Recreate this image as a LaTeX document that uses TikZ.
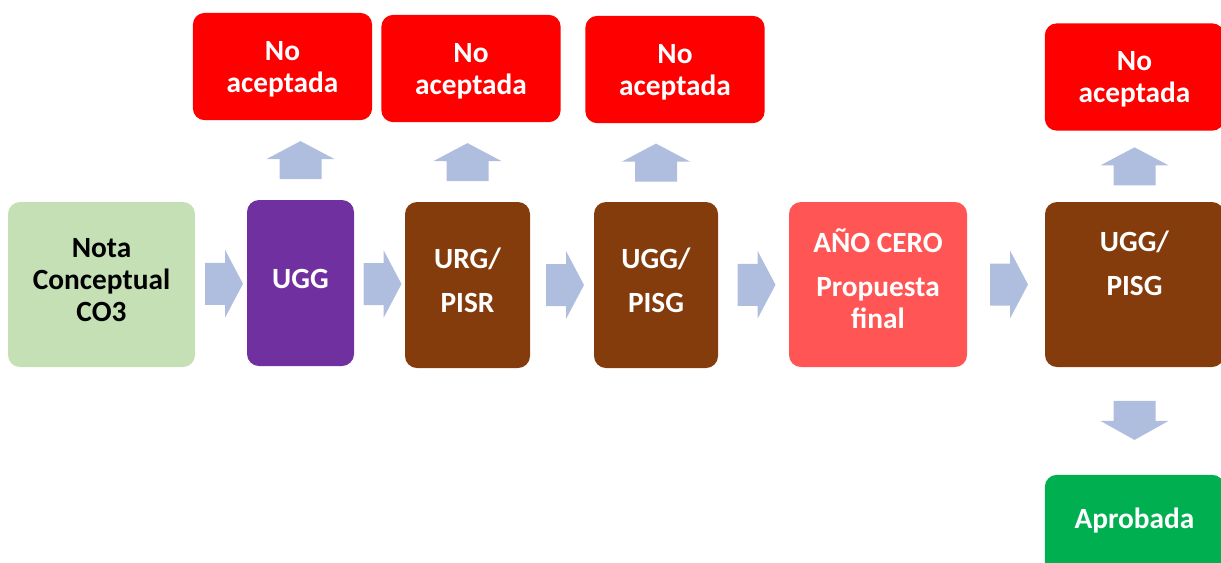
\documentclass[tikz,border=0pt]{standalone}
\usepackage{fontspec}
\setmainfont{Carlito}
\usetikzlibrary{calc}

\definecolor{notagreen}{RGB}{197,224,180}
\definecolor{uggpurple}{RGB}{112,48,160}
\definecolor{unitbrown}{RGB}{132,60,12}
\definecolor{anosalmon}{RGB}{255,85,85}
\definecolor{rejectred}{RGB}{255,0,0}
\definecolor{okgreen}{RGB}{0,176,80}
\definecolor{flowblue}{RGB}{175,189,223}

\tikzstyle{stage}=[rounded corners=9pt,inner sep=0pt,align=center,text=white,
                   font=\fontsize{22}{24}\selectfont\bfseries,text depth=0.65em]
\tikzstyle{outcome}=[stage,minimum width=134.5pt,minimum height=80.5pt,text depth=-3pt]
\tikzstyle{blockarrow}=[fill=flowblue]

\begin{document}
\begin{tikzpicture}[x=0.75pt,y=-0.75pt]
\useasboundingbox (0,0) rectangle (1221,562);
% main row
\foreach \pos/\w/\h/\d/\col/\name/\txt in {
    {(101.5,284.5)/140.25/123.75/0.65em/notagreen/nota/{\color{black}Nota\\\color{black}Conceptual\\\color{black}CO3}},
    {(300.5,283)/80.25/124.5/0.65em/uggpurple/ugg/UGG},
    {(467.5,285)/93.75/124.5/0.65em/unitbrown/urg/{URG/\\[9pt]PISR}},
    {(656,285)/93/124.5/0.65em/unitbrown/pisg/{UGG/\\[9pt]PISG}},
    {(878,284.5)/133.5/123.75/0.85em/anosalmon/ano/{AÑO CERO\\[9pt]Propuesta\\final}},
    {(1134.5,284.5)/134.25/123.75/0.85em/unitbrown/fin/{UGG/\\[9pt]PISG\\\mbox{}}}}{
  \node[stage,fill=\col,minimum width=\w pt,minimum height=\h pt,text depth=\d] (\name) at \pos {\txt};
}
% outcomes
\foreach \pos/\name in {{(282.5,66.5)/no1}, {(471,68.5)/no2},
                         {(675,69.5)/no3}, {(1134.5,77)/no4}}{
  \node[outcome,fill=rejectred] (\name) at \pos {No\\aceptada};
}
\node[outcome,fill=okgreen,text depth=1.6em] (aprob) at (1134.5,528.5) {Aprobada};
% arrows along the row
\foreach \a/\b in {nota/ugg, ugg/urg, urg/pisg, pisg/ano, ano/fin}{
  \coordinate (m) at ($(\a.east)!0.5!(\b.west)+(3,0)$);
  \fill[blockarrow] ($(m)+(-19,-21)$) -- ++(20,0) -- ++(0,-13) -- ++(18,34)
        -- ++(-18,34) -- ++(0,-13) -- ++(-20,0) -- cycle;
}
% arrows up to the rejections
\foreach \a/\b in {ugg/no1, urg/no2, pisg/no3, fin/no4}{
  \coordinate (m) at ($(\a.north |- \b.south)!0.5!(\a.north)$);
  \fill[blockarrow] ($(m)+(-21,19)$) -- ++(0,-20) -- ++(-13,0) -- ++(34,-18)
        -- ++(34,18) -- ++(-13,0) -- ++(0,20) -- cycle;
}
% arrow down to the approval
\coordinate (m) at ($(fin.south)!0.5!(aprob.north)$);
\fill[blockarrow] ($(m)+(-21,-20)$) -- ++(0,20) -- ++(-13,0) -- ++(34,19)
      -- ++(34,-19) -- ++(-13,0) -- ++(0,-20) -- cycle;
\end{tikzpicture}
\end{document}
